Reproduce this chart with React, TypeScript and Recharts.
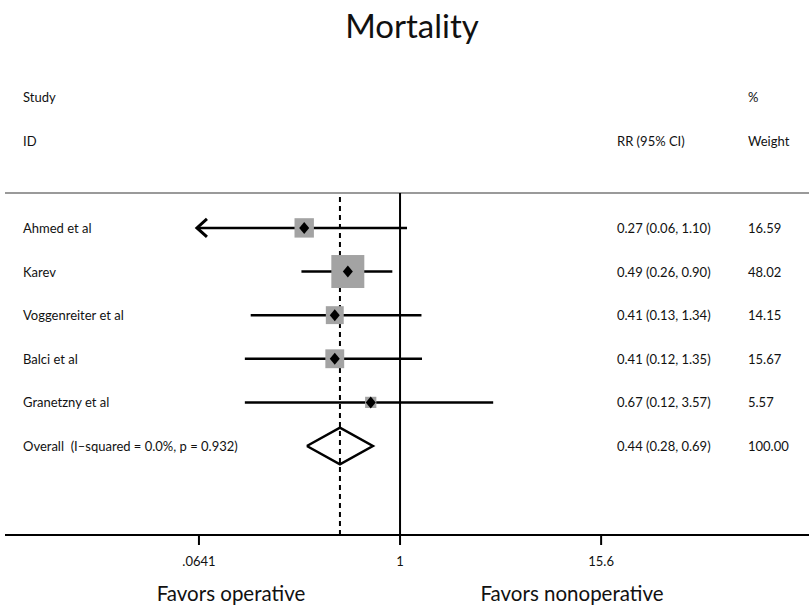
import React from 'react';
import { ComposedChart, XAxis, YAxis, Scatter, ReferenceLine } from 'recharts';

const studies = ['Ahmed et al', 'Karev', 'Voggenreiter et al', 'Balci et al', 'Granetzny et al'];
const rr = [0.27, 0.49, 0.41, 0.41, 0.67];
const ciLow = [0.06, 0.26, 0.13, 0.12, 0.12];
const ciHigh = [1.1, 0.9, 1.34, 1.35, 3.57];
const weights = [16.59, 48.02, 14.15, 15.67, 5.57];
const rrText = ['0.27 (0.06, 1.10)', '0.49 (0.26, 0.90)', '0.41 (0.13, 1.34)', '0.41 (0.12, 1.35)', '0.67 (0.12, 3.57)'];
const weightText = ['16.59', '48.02', '14.15', '15.67', '5.57'];

const overallLabel = 'Overall  (I\u2013squared = 0.0%, p = 0.932)';
const overallRR = 0.44;
const overallLow = 0.28;
const overallHigh = 0.69;
const overallRRText = '0.44 (0.28, 0.69)';
const overallWeightText = '100.00';

const xTicks = [0.0641, 1, 15.6];
const xTickLabels = ['.0641', '1', '15.6'];

// layout constants
const FONT = 'Lato, "Open Sans", sans-serif';
const BODY = 13;
const X_DOMAIN: [number, number] = [0.00453, 267];
const Y_DOMAIN: [number, number] = [-0.8, 7.04];
const SQUARE_SCALE = 4.76;
const DIAMOND_HALF = 0.42;

const overallRow = studies.length;

const markerData = studies.map((s, i) => ({ x: rr[i], y: i, w: weights[i] }));
const arrowData = studies
  .map((s, i) => ({ x: xTicks[0], y: i, lo: ciLow[i] }))
  .filter((d) => d.lo < xTicks[0]);
const diamondData = [
  { x: overallLow, y: overallRow },
  { x: overallRR, y: overallRow - DIAMOND_HALF },
  { x: overallHigh, y: overallRow },
  { x: overallRR, y: overallRow + DIAMOND_HALF },
  { x: overallLow, y: overallRow },
];
const labelData = [
  ...studies.map((s, i) => ({ x: 1, y: i, name: s, ci: rrText[i], wt: weightText[i] })),
  { x: 1, y: overallRow, name: overallLabel, ci: overallRRText, wt: overallWeightText },
];

const Empty = () => <g />;

const MarkerShape = (props: any) => {
  const { cx, cy, payload } = props;
  const s = SQUARE_SCALE * Math.sqrt(payload.w);
  const d = 5;
  return (
    <g>
      <rect x={cx - s / 2} y={cy - s / 2} width={s} height={s} fill="#a3a3a3" />
      <path d={`M${cx - d},${cy} L${cx},${cy - 6} L${cx + d},${cy} L${cx},${cy + 6} Z`} fill="#000" />
    </g>
  );
};

const ArrowShape = (props: any) => {
  const { cx, cy } = props;
  return (
    <path
      d={`M${cx + 8},${cy - 9} L${cx - 2},${cy} L${cx + 8},${cy + 9}`}
      fill="none"
      stroke="#000"
      strokeWidth={3}
    />
  );
};

const LabelShape = (props: any) => {
  const { cy, payload } = props;
  const common = { dominantBaseline: 'central', fontSize: BODY, fontFamily: FONT, fill: '#111' } as any;
  return (
    <g>
      <text x={23} y={cy} {...common} style={{ whiteSpace: 'pre' }}>
        {payload.name}
      </text>
      <text x={617} y={cy} {...common}>
        {payload.ci}
      </text>
      <text x={748} y={cy} {...common}>
        {payload.wt}
      </text>
    </g>
  );
};

const Txt = ({ x, y, size, children, anchor = 'left' }: any) => (
  <div
    style={{
      position: 'absolute',
      left: x,
      top: y,
      transform: anchor === 'center' ? 'translate(-50%, -50%)' : 'translate(0, -50%)',
      fontSize: size,
      lineHeight: 1,
      fontFamily: FONT,
      color: '#111',
      whiteSpace: 'pre',
    }}
  >
    {children}
  </div>
);

export default function App() {
  return (
    <div style={{ position: 'absolute', left: 0, top: 0, width: 809, height: 611, background: '#fff' }}>
      <ComposedChart width={809} height={611} margin={{ top: 193, right: 0, bottom: 46, left: 5 }}>
        <XAxis
          type="number"
          dataKey="x"
          scale="log"
          domain={X_DOMAIN}
          allowDataOverflow
          ticks={xTicks}
          interval={0}
          tickFormatter={(v: number) => xTickLabels[xTicks.indexOf(v)] ?? String(v)}
          axisLine={{ stroke: '#000', strokeWidth: 2 }}
          tickLine={{ stroke: '#000', strokeWidth: 2 }}
          tickSize={10}
          tickMargin={12}
          tick={{ fontSize: 13, fill: '#111', fontFamily: FONT }}
          height={30}
        />
        <YAxis type="number" dataKey="y" domain={Y_DOMAIN} reversed allowDataOverflow hide />
        <ReferenceLine y={Y_DOMAIN[0]} stroke="#9a9a9a" strokeWidth={2} />
        <ReferenceLine x={1} stroke="#000" strokeWidth={2} />
        <ReferenceLine x={overallRR} stroke="#000" strokeWidth={2} strokeDasharray="5 4" />
        {studies.map((s, i) => (
          <Scatter
            key={s}
            data={[
              { x: Math.max(ciLow[i], xTicks[0]), y: i },
              { x: ciHigh[i], y: i },
            ]}
            line={{ stroke: '#000', strokeWidth: 2.5 }}
            shape={<Empty />}
            isAnimationActive={false}
          />
        ))}
        <Scatter data={arrowData} shape={<ArrowShape />} isAnimationActive={false} />
        <Scatter data={markerData} shape={<MarkerShape />} isAnimationActive={false} />
        <Scatter data={diamondData} line={{ stroke: '#000', strokeWidth: 2.5 }} shape={<Empty />} isAnimationActive={false} />
        <Scatter data={labelData} shape={<LabelShape />} isAnimationActive={false} />
      </ComposedChart>

      <Txt x={412} y={25} size={33} anchor="center">Mortality</Txt>
      <Txt x={23} y={97} size={BODY}>Study</Txt>
      <Txt x={23} y={141} size={BODY}>ID</Txt>
      <Txt x={748} y={97} size={BODY}>%</Txt>
      <Txt x={617} y={141} size={BODY}>RR (95% CI)</Txt>
      <Txt x={748} y={141} size={BODY}>Weight</Txt>
      <Txt x={231} y={593} size={20.5} anchor="center">Favors operative</Txt>
      <Txt x={572} y={593} size={20.5} anchor="center">Favors nonoperative</Txt>
    </div>
  );
}
